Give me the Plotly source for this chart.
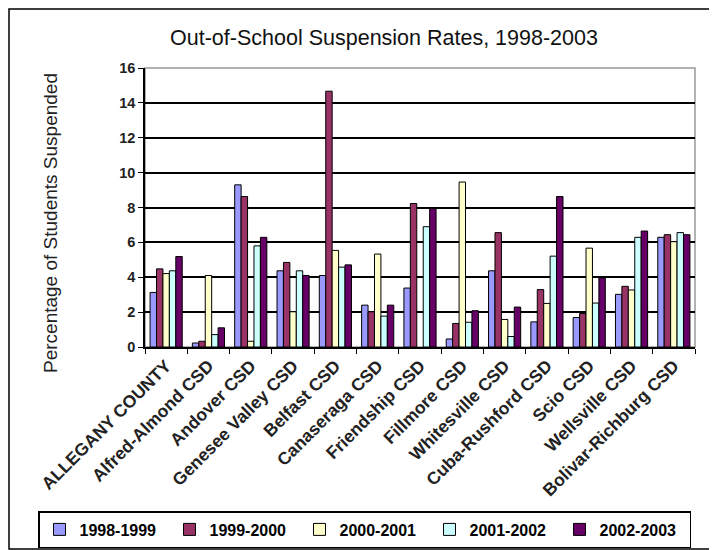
import plotly.graph_objects as go

categories = ["ALLEGANY COUNTY", "Alfred-Almond CSD", "Andover CSD", "Genesee Valley CSD",
              "Belfast CSD", "Canaseraga CSD", "Friendship CSD", "Fillmore CSD",
              "Whitesville CSD", "Cuba-Rushford CSD", "Scio CSD", "Wellsville CSD",
              "Bolivar-Richburg CSD"]

s1998 = [3.13, 0.23, 9.3, 4.37, 4.1, 2.4, 3.38, 0.46, 4.37, 1.44, 1.69, 3.02, 6.29]
s1999 = [4.48, 0.33, 8.63, 4.85, 14.67, 2.02, 8.23, 1.35, 6.56, 3.29, 1.92, 3.48, 6.44]
s2000 = [4.21, 4.1, 0.33, 2.02, 5.54, 5.33, None, 9.46, 1.58, 2.5, 5.67, 3.27, 6.04]
s2001 = [4.37, 0.71, 5.8, 4.37, 4.58, 1.77, 6.9, 1.42, 0.6, 5.21, 2.52, 6.29, 6.56]
s2002 = [5.19, 1.1, 6.29, 4.1, 4.71, 2.4, 7.94, 2.08, 2.29, 8.63, 3.96, 6.65, 6.44]

series_names = ["1998-1999", "1999-2000", "2000-2001", "2001-2002", "2002-2003"]
series_values = [s1998, s1999, s2000, s2001, s2002]
colors = ["#9999FF", "#993366", "#FFFFCC", "#CCFFFF", "#660066"]
y_ticks = [0, 2, 4, 6, 8, 10, 12, 14, 16]

FONT = "Liberation Sans, Arial, sans-serif"

fig = go.Figure()
for name, vals, col in zip(series_names, series_values, colors):
    fig.add_trace(go.Bar(
        x=categories, y=vals, name=name,
        marker=dict(color=col, line=dict(color="black", width=1)),
    ))

# page body has an 8px margin: figure coordinates = screen coordinates - 8
OFF = 8
W, H = 717, 550
L, R, T, B = 145 - OFF, W - (695 - OFF), 68 - OFF, H - (347 - OFF)
pw, ph = W - L - R, H - T - B

def px(xs):
    return (xs - OFF - L) / pw

def py(ys):
    return (H - B - (ys - OFF)) / ph

fig.update_layout(
    width=W, height=H,
    margin=dict(l=L, r=R, t=T, b=B, autoexpand=False),
    paper_bgcolor="white", plot_bgcolor="white",
    barmode="group", bargap=0.24, bargroupgap=0,
    font=dict(family=FONT, color="black", size=12),
    title=dict(text="Out-of-School Suspension Rates, 1998-2003",
               x=(384 - OFF) / W, xanchor="center", xref="container",
               y=1 - (37 - OFF) / H, yanchor="middle", yref="container",
               font=dict(size=21.5, family=FONT, color="#111111")),
    showlegend=True,
    legend=dict(orientation="h", x=px(38), xanchor="left",
                y=py(520 - 9), yanchor="top",
                bordercolor="black", borderwidth=1.5, bgcolor="white",
                font=dict(size=16, family=FONT, weight="bold"),
                entrywidth=85, entrywidthmode="pixels",
                traceorder="normal", itemwidth=30),
    xaxis=dict(tickangle=-45, tickson="boundaries", ticks="outside", ticklen=5,
               tickcolor="black", showline=True, linecolor="black", linewidth=1.5,
               showgrid=False, automargin=False,
               tickfont=dict(size=17.5, family=FONT, weight="bold", color="#222222")),
    yaxis=dict(range=[0, 16], tickvals=y_ticks, ticks="outside", ticklen=5,
               tickcolor="black", showline=True, linecolor="black", linewidth=1.5,
               showgrid=True, gridcolor="black", gridwidth=1.5, automargin=False,
               tickfont=dict(size=14.5, family=FONT, weight="bold", color="#222222"),
               zeroline=False),
)

# plot area border (top/right gray)
fig.add_shape(type="rect", xref="paper", yref="paper", x0=0, x1=1, y0=0, y1=1,
              line=dict(color="#999999", width=1.5), layer="below")
# outer frame
fig.add_shape(type="rect", xref="paper", yref="paper",
              x0=px(OFF + 1), x1=px(710), y0=py(549), y1=py(OFF + 1),
              line=dict(color="black", width=1.5))

fig.add_annotation(text="Percentage of Students Suspended", xref="paper", yref="paper",
                   x=px(50), y=py(223), textangle=-90, showarrow=False,
                   font=dict(size=19, family=FONT, color="#222222"),
                   xanchor="center", yanchor="middle")

fig.write_html("out.html")
